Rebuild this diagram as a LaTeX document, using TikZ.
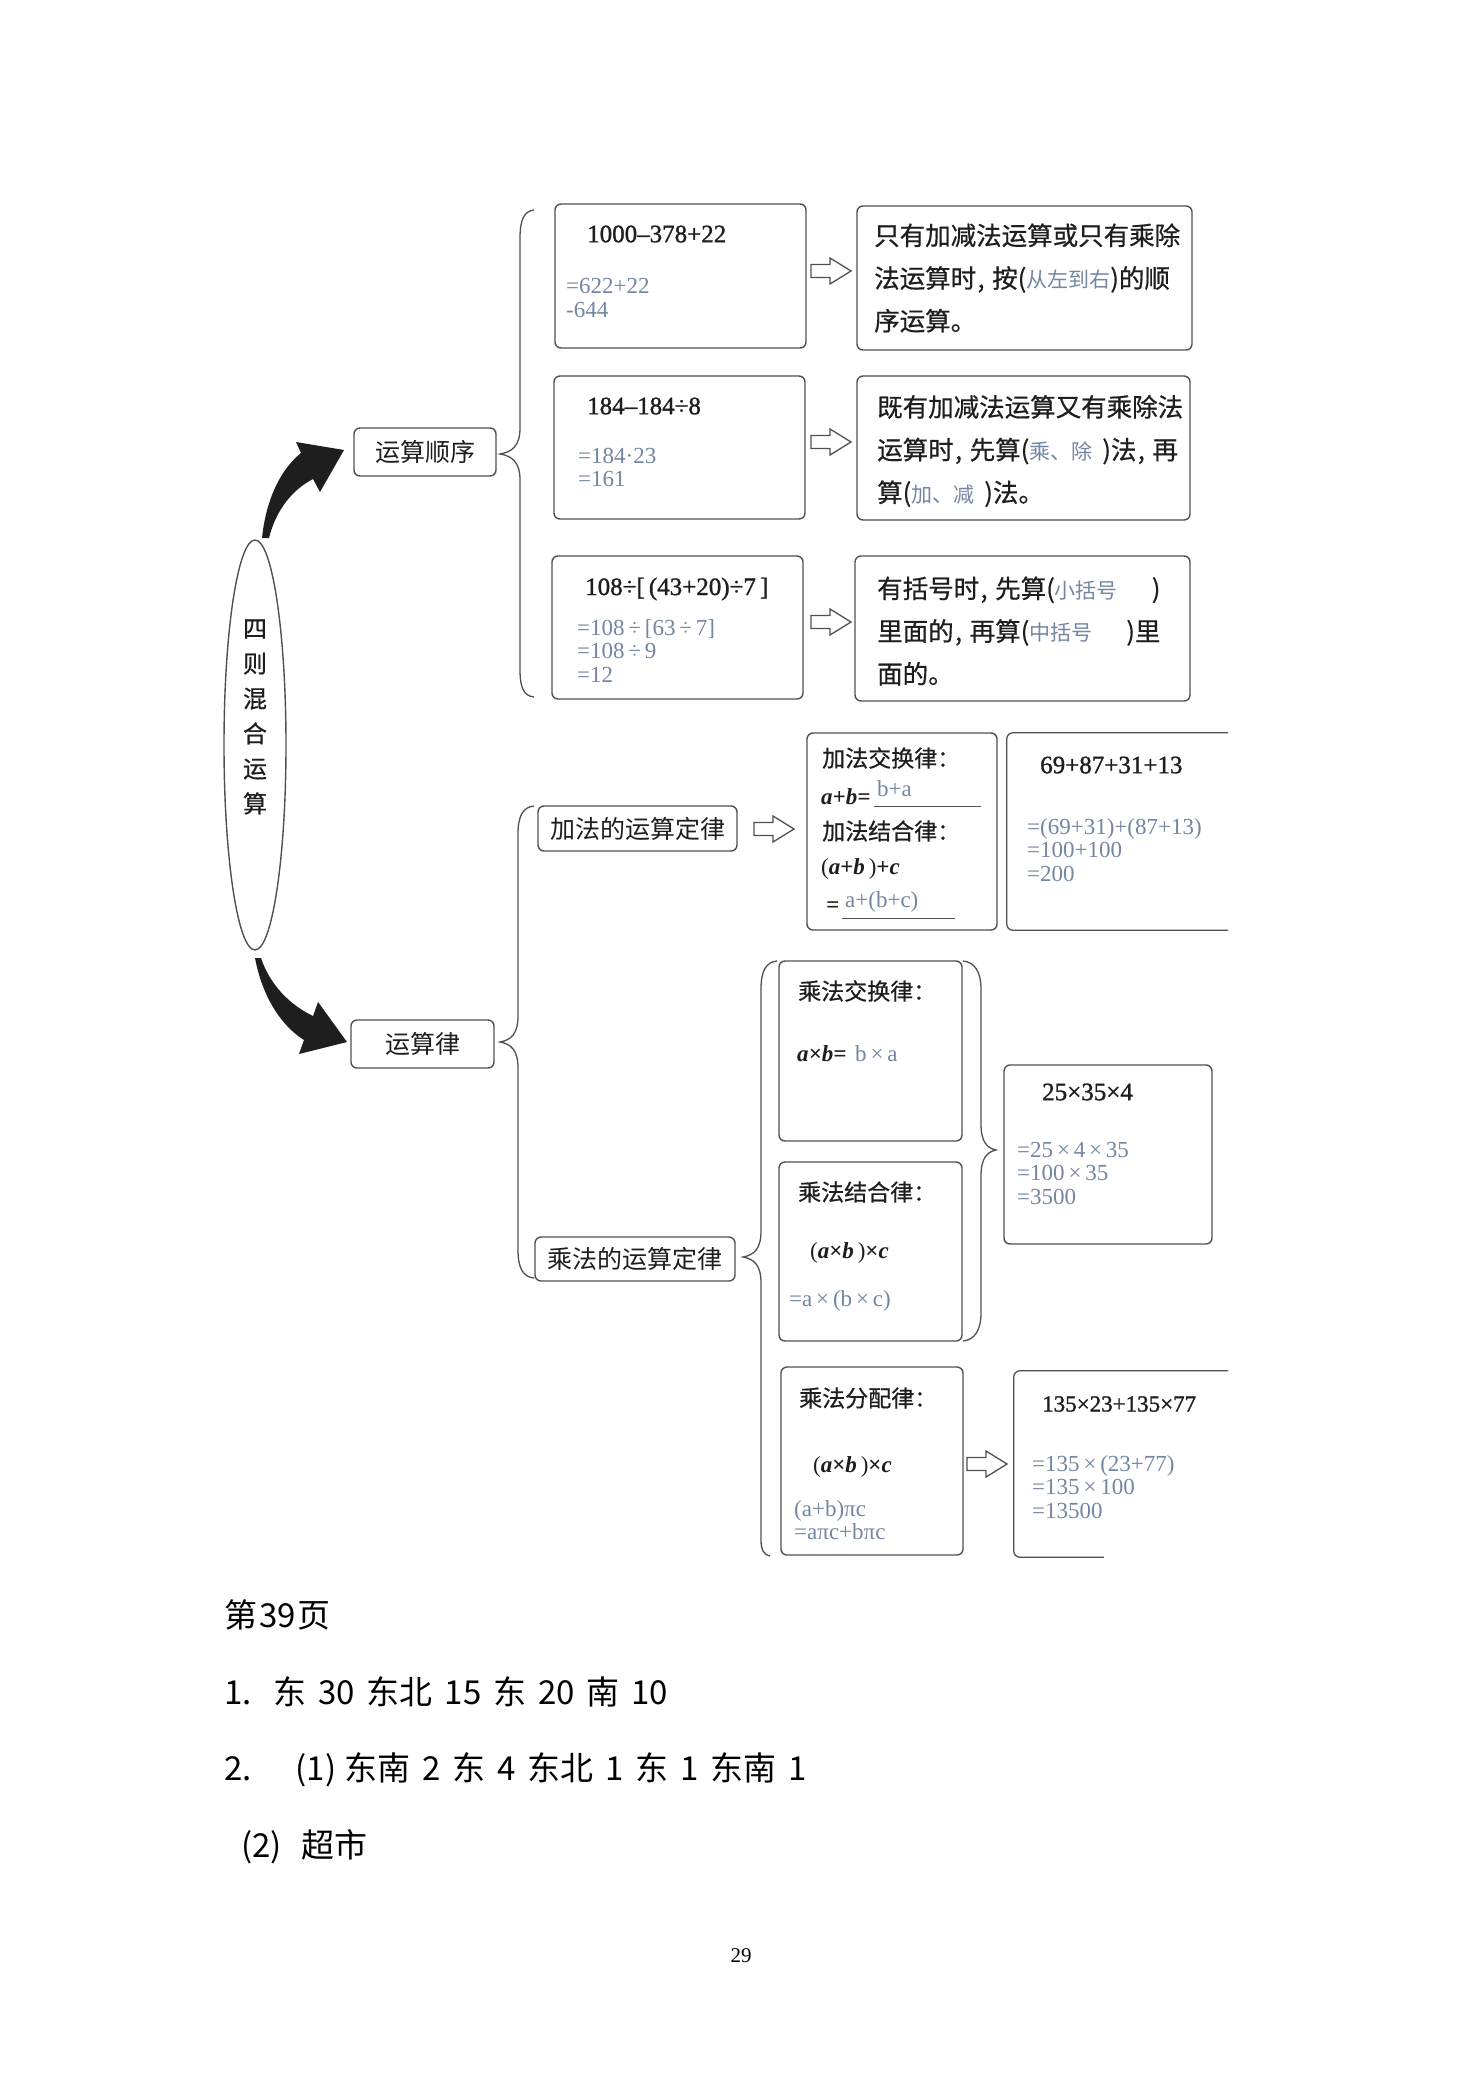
\documentclass[tikz,border=0pt]{standalone}
\usepackage{fontspec}
\setmainfont{Liberation Serif}
\newfontfamily\numf{Liberation Serif}[FakeBold=1.2]
\newfontfamily\cjk{Noto Sans CJK SC}
\newfontfamily\cjkd{Noto Sans CJK SC}[FakeBold=0.6]
\newfontfamily\cjkb{Noto Sans CJK SC}[WordSpace=1.6]
\usetikzlibrary{fit,calc,shapes.geometric}
\definecolor{ink}{HTML}{1E1E1E}
\definecolor{bord}{HTML}{505050}
\definecolor{ans}{HTML}{7486A2}
\newcommand\zcm{\kern0.05em,\kern0.3em}
\newcommand\ansc[1]{{\cjk\color{ans}\fontsize{21}{42.7}\selectfont #1}}
\tikzset{harr/.pic={\draw[draw=bord, line width=1.3pt, fill=white, line join=miter]
  (-20,-6.5) -- (-1,-6.5) -- (-1,-13) -- (20,0) -- (-1,13) -- (-1,6.5) -- (-20,6.5) -- cycle;}}
\begin{document}
\begin{tikzpicture}[x=1pt,y=-1pt,
 box/.style={draw=bord, line width=1.4pt, rounded corners=6pt, inner sep=0pt},
 lab/.style={text=ink, font=\cjk\fontsize{25}{25}\selectfont},
 cj/.style={inner sep=0pt, anchor=west, text=ink, align=left, font=\cjkd\fontsize{25.5}{42.7}\selectfont},
 law/.style={inner sep=0pt, anchor=west, text=ink, font=\cjkd\fontsize{23}{23}\selectfont},
 num/.style={inner sep=0pt, anchor=west, text=ink, font=\numf\fontsize{25}{25}\selectfont},
 an/.style={inner sep=0pt, anchor=west, text=ans, align=left, font=\fontsize{23}{23.5}\selectfont},
 fm/.style={inner sep=0pt, anchor=west, text=ink, font=\fontsize{23}{23}\selectfont\bfseries\itshape},
 fr/.style={inner sep=0pt, anchor=west, text=ink, font=\fontsize{23}{23}\selectfont},
 brc/.style={draw=bord, line width=1.3pt},
 ln/.style={draw=bord, line width=1pt},
 pg/.style={inner sep=0pt, anchor=west, text=black, font=\cjkb\fontsize{33}{33}\selectfont},
]
\fill[white] (0,0) rectangle (1480,2093);
\useasboundingbox (0,0) rectangle (1480,2093);

% main ellipse
\node[draw=bord, line width=1.4pt, ellipse, minimum width=62pt, minimum height=410pt, inner sep=0pt] (E) at (255,745) {};
\node[inner sep=0pt, align=center, text=ink, font=\cjkd\fontsize{24}{35}\selectfont] (ET) at (255,717) {四\\则\\混\\合\\运\\算};

% curved arrows
\fill[ink] (262,538) .. controls (266,500) and (280,470) .. (301,453) -- (296,442) -- (344,450) -- (320,492) -- (313,479) .. controls (292,490) and (276,510) .. (269,538) -- cycle;
\fill[ink] (255,958) .. controls (262,995) and (280,1025) .. (304,1040) -- (299,1054) -- (347,1042) -- (318,1002) -- (313,1016) .. controls (290,1005) and (270,985) .. (261,958) -- cycle;

% label boxes
\node[box, lab, minimum width=142pt, minimum height=48pt] (ys) at (425,452) {运算顺序};
\node[box, lab, minimum width=143pt, minimum height=48pt] (yl) at (422.5,1044) {运算律};
\node[box, lab, minimum width=199pt, minimum height=45pt] (add) at (637.5,828.5) {加法的运算定律};
\node[box, lab, minimum width=200pt, minimum height=44pt] (mul) at (635,1259) {乘法的运算定律};

% braces
\draw[brc] (534,210) .. controls (524,211) and (520,220) .. (520,238) -- (520,428) .. controls (520,446) and (512,452) .. (500,454) .. controls (512,456) and (520,462) .. (520,480) -- (520,670) .. controls (520,688) and (524,696) .. (534,697);
\draw[brc] (534,806) .. controls (523,807) and (518,816) .. (518,834) -- (518,1016) .. controls (518,1034) and (511,1040) .. (500,1042) .. controls (511,1044) and (518,1050) .. (518,1068) -- (518,1250) .. controls (518,1268) and (523,1277) .. (534,1278);
\draw[brc] (777,961) .. controls (766,962) and (761,971) .. (761,989) -- (761,1231) .. controls (761,1249) and (754,1255) .. (743,1257) .. controls (754,1259) and (761,1265) .. (761,1283) -- (761,1540) .. controls (761,1550) and (764,1555) .. (770,1556);
\draw[brc] (963,961) .. controls (974,962) and (981,971) .. (981,989) -- (981,1124) .. controls (981,1142) and (987,1148) .. (996,1150) .. controls (987,1152) and (981,1158) .. (981,1176) -- (981,1313) .. controls (981,1331) and (974,1340) .. (963,1341);

% order boxes
\node[box, fit={(555,204) (806,348)}] (b1) {};
\node[box, fit={(554,376) (805,519)}] (b2) {};
\node[box, fit={(552,556) (803,699)}] (b3) {};
\node[box, fit={(857,206) (1192,350)}] (r1) {};
\node[box, fit={(857,376) (1190,520)}] (r2) {};
\node[box, fit={(855,556) (1190,701)}] (r3) {};
\pic at (831,271) {harr};
\pic at (831,442) {harr};
\pic at (831,622) {harr};

\node[num] (t1) at (587,234) {1000–378+22};
\node[an] (a1) at (566,298) {=622+22\\-644};
\node[num] (t2) at (587,406) {184–184÷8};
\node[an] (a2) at (578,467.5) {=184·23\\=161};
\node[num] (t3) at (585,589) {108÷[\,(43+20)÷7\,]};
\node[an] (a3) at (577,651) {=108\,÷\,[63\,÷\,7]\\=108\,÷\,9\\=12};

\node[cj] (s1) at (874,278) {只有加减法运算或只有乘除\\法运算时\zcm 按(\ansc{从左到右})的顺\\序运算。};
\node[cj] (s2) at (877,451) {既有加减法运算又有乘除法\\运算时\zcm 先算(\ansc{乘、除}\hspace{10pt})法\zcm 再\\算(\ansc{加、减}\hspace{10pt})法。};
\node[cj] (s3) at (877,631) {有括号时\zcm 先算(\ansc{小括号}\hspace{34pt})\\里面的\zcm 再算(\ansc{中括号}\hspace{34pt})里\\面的。};

% addition laws
\node[box, fit={(807,733) (997,930)}] (addl) {};
\pic at (774,829) {harr};
\node[law] (l1) at (822,758) {加法交换律：};
\node[fm] (f1) at (821,797) {a+b=};
\node[an] (f1a) at (877,789) {b+a};
\draw[ln] (874,806) -- (981,806);
\node[law] (l2) at (822,831) {加法结合律：};
\node[fr] (f2) at (821,869) {(\textbf{\textit{a}+\textit{b}}\,)\textbf{+\textit{c}}};
\node[fm] (f3) at (826,907) {=};
\node[an] (f3a) at (845,902) {a+(b+c)};
\draw[ln] (842,918) -- (955,918);

\node[inner sep=0pt, fit={(1007,733) (1228,930)}] (adde) {};
\draw[brc, rounded corners=6pt] (adde.north east) -- (adde.north west) -- (adde.south west) -- (adde.south east);
\node[num] (t4) at (1040,765) {69+87+31+13};
\node[an] (a4) at (1027,850) {=(69+31)+(87+13)\\=100+100\\=200};

% multiplication laws
\node[box, fit={(779,961) (962,1141)}] (mc) {};
\node[box, fit={(779,1162) (962,1341)}] (ma) {};
\node[box, fit={(1004,1065) (1212,1244)}] (me) {};
\node[box, fit={(781,1367) (963,1555)}] (md) {};
\node[inner sep=0pt, fit={(1014,1371) (1228,1557)}] (mde) {};
\draw[brc, rounded corners=6pt] (mde.north east) -- (mde.north west) -- (mde.south west) -- ($(mde.south west)+(90,0)$);
\pic at (987,1464) {harr};

\node[law] (l3) at (798,991) {乘法交换律：};
\node[fm] (f4) at (797,1054) {a×b=};
\node[an] (f4a) at (855,1054) {b\,×\,a};
\node[law] (l4) at (798,1192) {乘法结合律：};
\node[fr] (f5) at (810,1253) {(\textbf{\textit{a}×\textit{b}}\,)\textbf{×\textit{c}}};
\node[an] (f5a) at (789,1301) {=a\,×\,(b\,×\,c)};
\node[num] (t5) at (1042,1092) {25×35×4};
\node[an] (a5) at (1017,1173) {=25\,×\,4\,×\,35\\=100\,×\,35\\=3500};
\node[law] (l5) at (799,1398) {乘法分配律：};
\node[fr] (f6) at (813,1467) {(\textbf{\textit{a}×\textit{b}}\,)\textbf{×\textit{c}}};
\node[an] (a6) at (794,1520) {(a+b)πc\\=aπc+bπc};
\node[num, font=\numf\fontsize{23}{23}\selectfont] (t6) at (1042,1404) {135×23+135×77};
\node[an] (a7) at (1032,1487) {=135\,×\,(23+77)\\=135\,×\,100\\=13500};

% answers text below
\node[pg] (p0) at (224,1615) {第\kern2pt 39\kern2pt 页};
\node[pg] (p1) at (224,1692) {1.\hspace{22pt}东 30 东北 15 东 20 南 10};
\node[pg] (p2) at (224,1770) {2.\hspace{44pt}(1)\hspace{8pt}东南 2 东 4 东北 1 东 1 东南 1};
\node[pg] (p3) at (241,1847) {(2)\hspace{20pt}超市};
\node[inner sep=0pt, text=black, font=\fontsize{21}{21}\selectfont] (pn) at (741,1956) {29};
\end{tikzpicture}
\end{document}
